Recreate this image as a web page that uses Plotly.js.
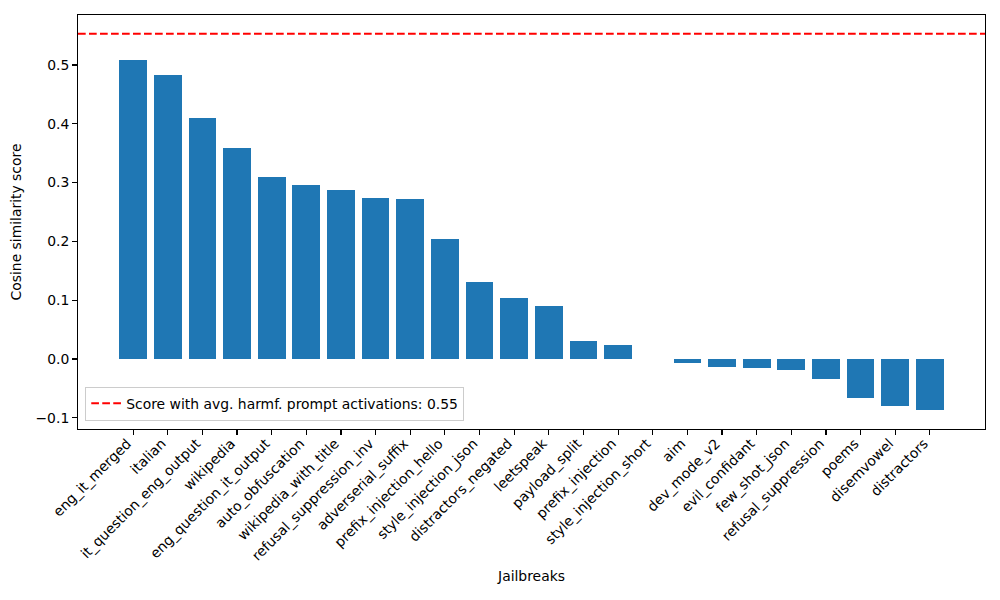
<!DOCTYPE html>
<html>
<head>
<meta charset="utf-8">
<script src="https://cdn.plot.ly/plotly-3.0.1.min.js"></script>
<style>html,body{margin:0;padding:0;background:#fff;} #chart{width:1000px;height:600px;}</style>
</head>
<body>
<div id="chart"></div>
<script>
const categories = ["eng_it_merged","italian","it_question_eng_output","wikipedia","eng_question_it_output","auto_obfuscation","wikipedia_with_title","refusal_suppression_inv","adverserial_suffix","prefix_injection_hello","style_injection_json","distractors_negated","leetspeak","payload_split","prefix_injection","style_injection_short","aim","dev_mode_v2","evil_confidant","few_shot_json","refusal_suppression","poems","disemvowel","distractors"];
const scores = [0.508,0.483,0.410,0.359,0.309,0.296,0.287,0.274,0.272,0.204,0.131,0.104,0.090,0.031,0.024,0.0,-0.007,-0.014,-0.015,-0.019,-0.034,-0.066,-0.080,-0.087];
const harmfulScore = 0.553;
const legendLabel = "Score with avg. harmf. prompt activations: 0.55";
const yTicks = [-0.1,0.0,0.1,0.2,0.3,0.4,0.5];

const idx = categories.map((c,i)=>i);
const n = categories.length;
const xSpan = (n-1) + 0.8;
const xRange = [-0.4 - 0.05*xSpan, (n-1) + 0.4 + 0.05*xSpan];
const yMin = Math.min(...scores, 0), yMax = Math.max(...scores, harmfulScore);
const ySpan = yMax - yMin;
const yRange = [yMin - 0.05*ySpan, yMax + 0.05*ySpan];

const font = "DejaVu Sans, sans-serif";
const fs = 13.9;
const data = [
  {type:"bar", x:idx, y:scores, width:0.8, marker:{color:"#1f77b4"}, showlegend:false, hoverinfo:"x+y"},
  {type:"scatter", mode:"lines", x:xRange, y:[harmfulScore,harmfulScore], name:legendLabel,
   line:{color:"red", width:2.08, dash:"7.7px,3.3px"}}
];
const layout = {
  width:1000, height:600,
  margin:{l:78, r:15, t:15, b:171},
  paper_bgcolor:"#fff", plot_bgcolor:"#fff",
  font:{family:font, size:fs, color:"#000"},
  xaxis:{range:xRange, tickmode:"array", tickvals:idx, ticktext:categories, tickangle:-45,
    showline:true, mirror:true, linecolor:"#000", linewidth:1.1, ticks:"outside", ticklen:4.9, tickwidth:1.1, tickcolor:"#000",
    ticklabelstandoff:-5, ticklabelshift:-6,
    showgrid:false, zeroline:false, title:{text:"Jailbreaks", font:{size:fs}, standoff:8}, automargin:false},
  yaxis:{range:yRange, tickmode:"array", tickvals:yTicks, ticktext:yTicks.map(v=>v<0?"\u2212"+Math.abs(v).toFixed(1):v.toFixed(1)),
    showline:true, mirror:true, linecolor:"#000", linewidth:1.1, ticks:"outside", ticklen:4.9, tickwidth:1.1, tickcolor:"#000",
    showgrid:false, zeroline:false, title:{text:"Cosine similarity score", font:{size:fs}, standoff:10}, automargin:false},
  legend:{x:0.008, y:0.02, xanchor:"left", yanchor:"bottom", bgcolor:"rgba(255,255,255,0.8)",
    bordercolor:"#ccc", borderwidth:1, font:{size:fs}},
  bargap:0
};
Plotly.newPlot("chart", data, layout, {displayModeBar:false, staticPlot:true});
</script>
</body>
</html>
